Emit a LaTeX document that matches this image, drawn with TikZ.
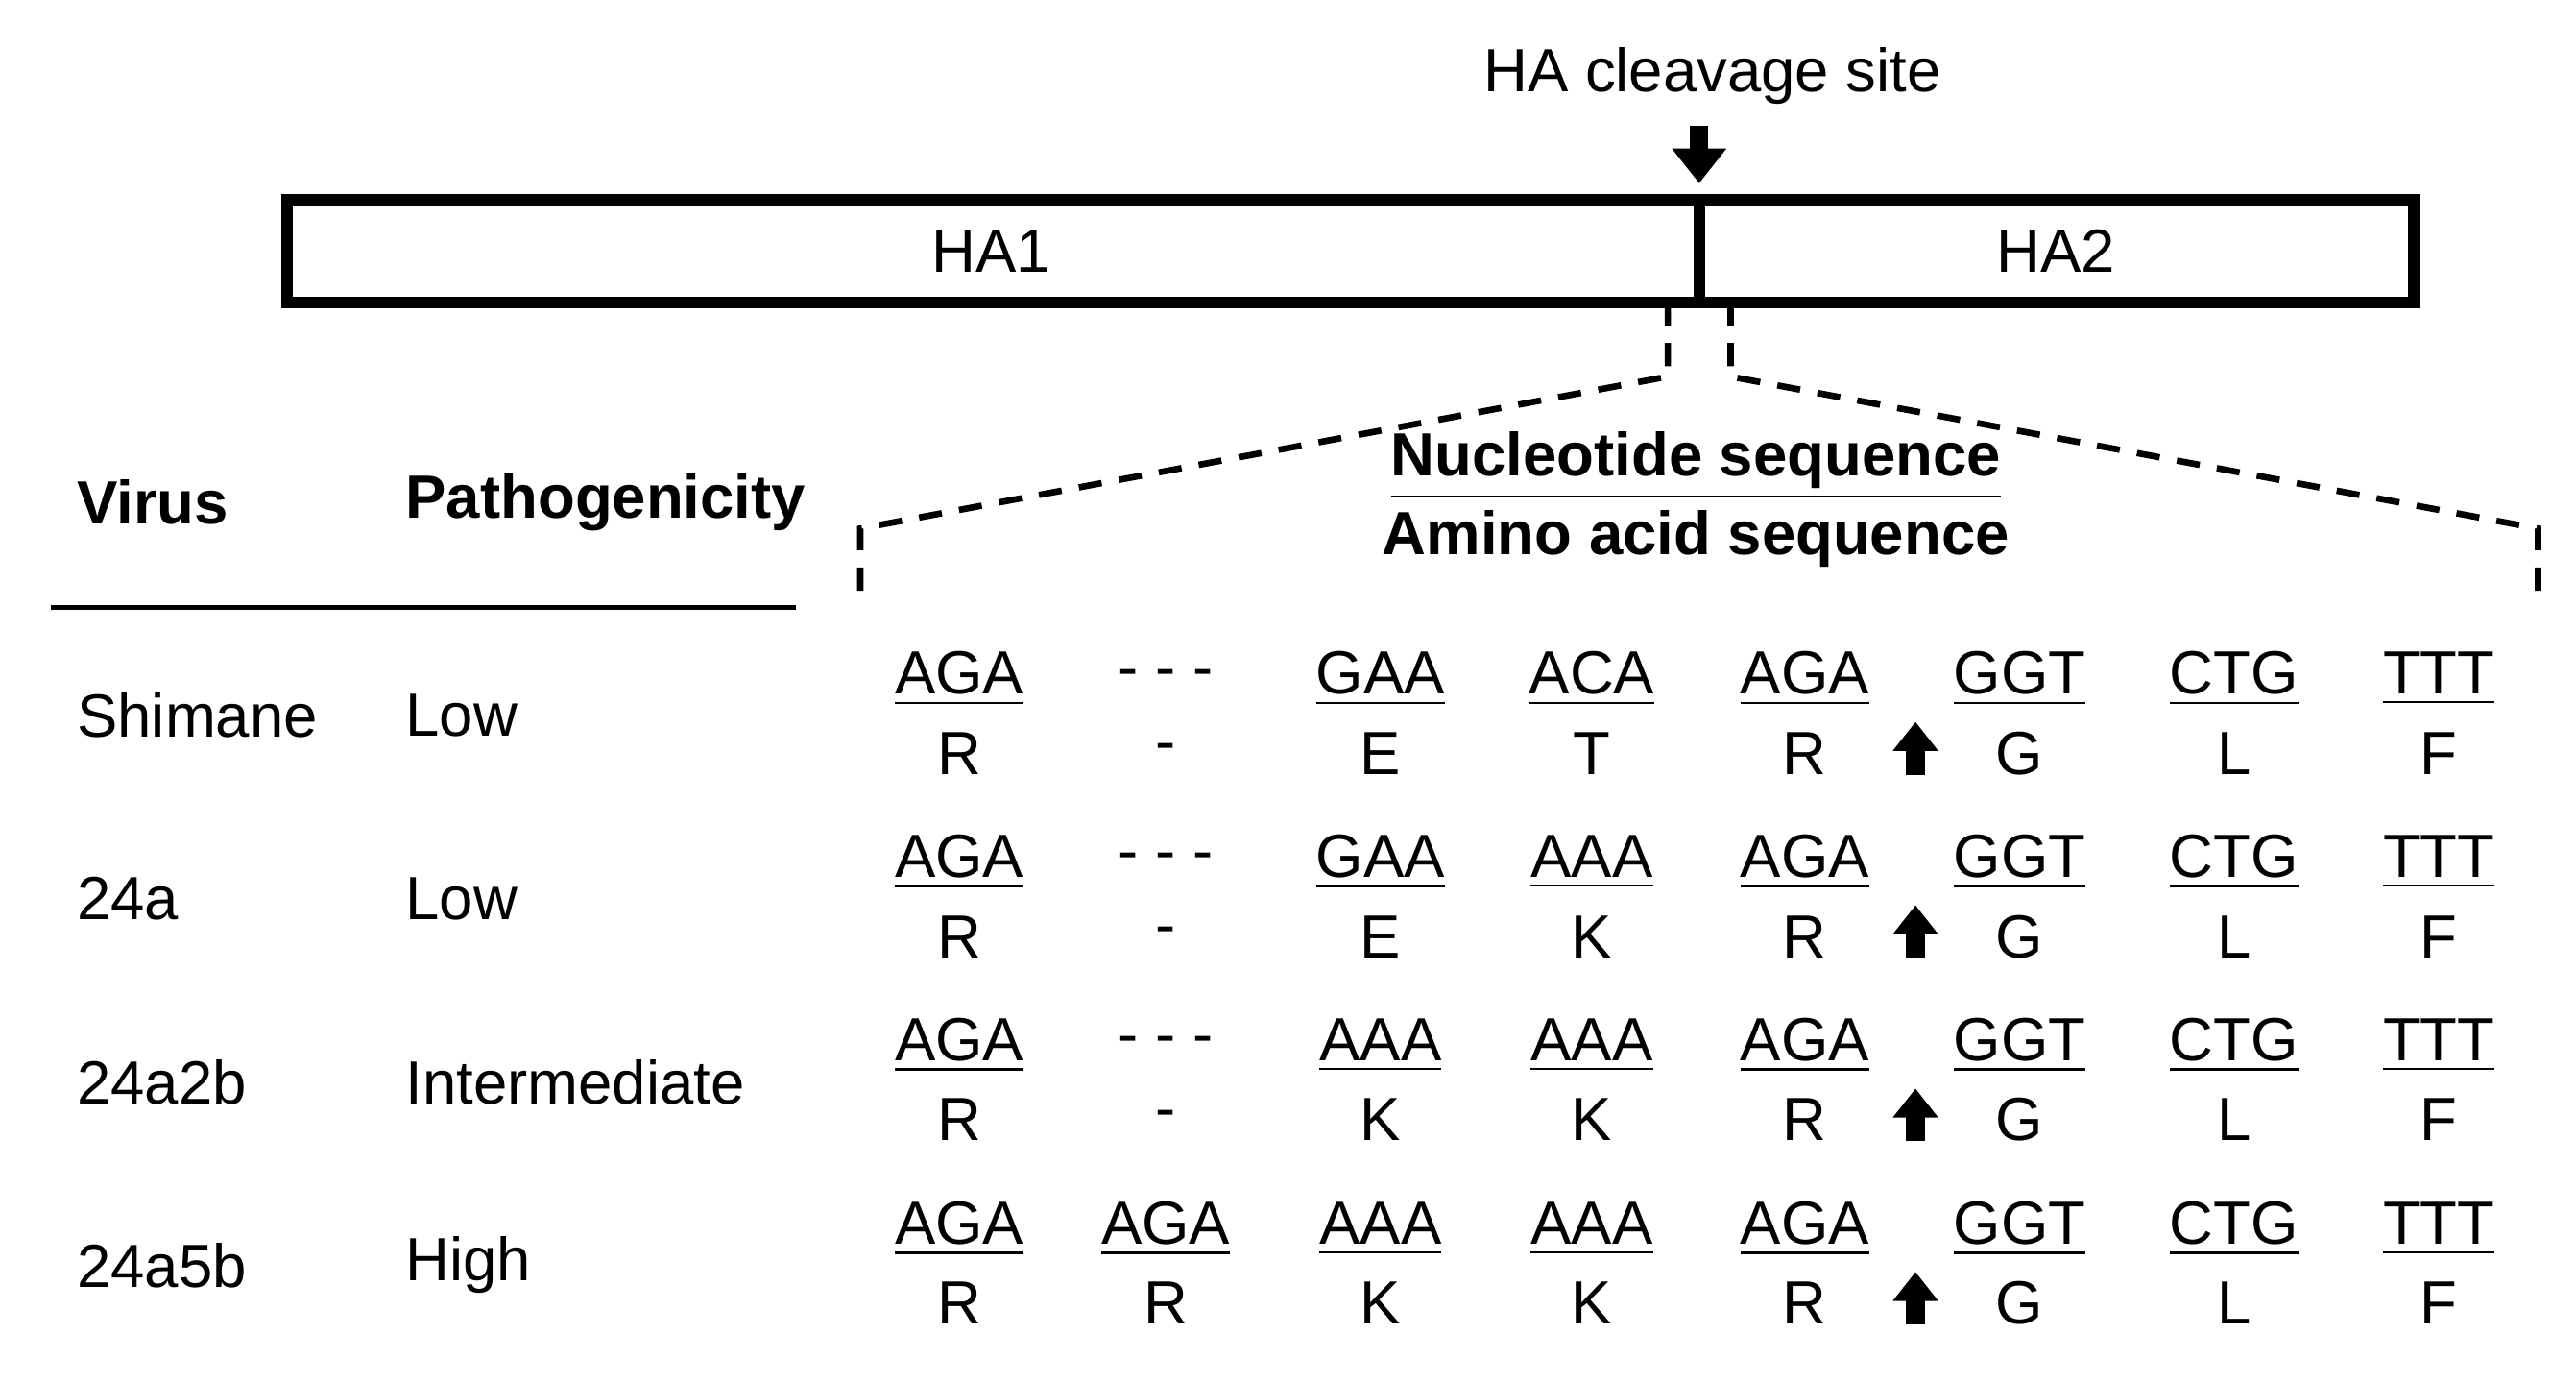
\documentclass[tikz,border=0pt]{standalone}
\usepackage{fontspec}
\setmainfont{Liberation Sans}
\usetikzlibrary{arrows.meta}

\tikzset{
  txt/.style={inner sep=0pt, font=\fontsize{10.5}{12}\selectfont},
  hdr/.style={txt, font=\fontsize{10.5}{12}\selectfont\bfseries},
  cut/.style={line width=3.2pt, -{Triangle[length=5pt,width=7.5pt]}},
  zoomline/.style={line width=1.1pt, dash pattern=on 4pt off 3pt}
}

\begin{document}
\begin{tikzpicture}[x=0.01cm, y=-0.01cm]
    \useasboundingbox (0,0) rectangle (1560,837);

    % HA precursor bar
    \draw[line width=2pt] (174,121) rectangle (1462,183);
    \draw[line width=2pt] (1029,121) -- (1029,183);
    \node[txt] (ha1) at (600,152) {HA1};
    \node[txt] (ha2) at (1245,152) {HA2};

    % cleavage site
    \node[txt] (site) at (1037,46) {HA cleavage site};
    \coordinate (tip) at (1029,111);
    \draw[cut, -{Triangle[length=6pt,width=9pt]}] (1029,76) -- (tip);

    % zoom lines
    \draw[zoomline] (1010,183) -- (1010,228) -- (521,320) -- (521,368);
    \draw[zoomline] (1048,183) -- (1048,228) -- (1537,320) -- (1537,368);

    % headers
    \node[hdr, anchor=west] (virus) at (46,304) {Virus};
    \node[hdr, anchor=west] (patho) at (245,304) {Pathogenicity};
    \node[hdr] (nuc) at (1027,282) {\underline{Nucleotide sequence}};
    \node[hdr] (amino) at (1027,326) {Amino acid sequence};
    \draw[line width=0.8pt] (31,368) -- (482,368);

    % rows
    \foreach \y/\vname/\level/\cA/\cB/\cC/\aA/\aB/\aC in {
        411/Shimane/Low/- - -/GAA/ACA/-/E/T,
        522/24a/Low/- - -/GAA/AAA/-/E/K,
        633/24a2b/Intermediate/- - -/AAA/AAA/-/K/K,
        744/24a5b/High/\underline{AGA}/AAA/AAA/R/K/K} {
      \node[txt, anchor=west] at (46,\y+22) {\vname};
      \node[txt, anchor=west] at (245,\y+22) {\level};
      \node[txt] at (581,\y) {\underline{AGA}};
      \node[txt] at (706,\y) {\cA};
      \node[txt] at (836,\y) {\underline{\cB}};
      \node[txt] at (964,\y) {\underline{\cC}};
      \node[txt] at (1093,\y) {\underline{AGA}};
      \node[txt] at (1223,\y) {\underline{GGT}};
      \node[txt] at (1353,\y) {\underline{CTG}};
      \node[txt] at (1477,\y) {\underline{TTT}};
      \foreach \x/\aa in {581/R,706/\aA,836/\aB,964/\aC,1093/R,1223/G,1353/L,1477/F}
        \node[txt] at (\x,\y+45) {\aa};
      \draw[cut] (1160,\y+58) -- (1160,\y+26);
    }
\end{tikzpicture}
\end{document}
